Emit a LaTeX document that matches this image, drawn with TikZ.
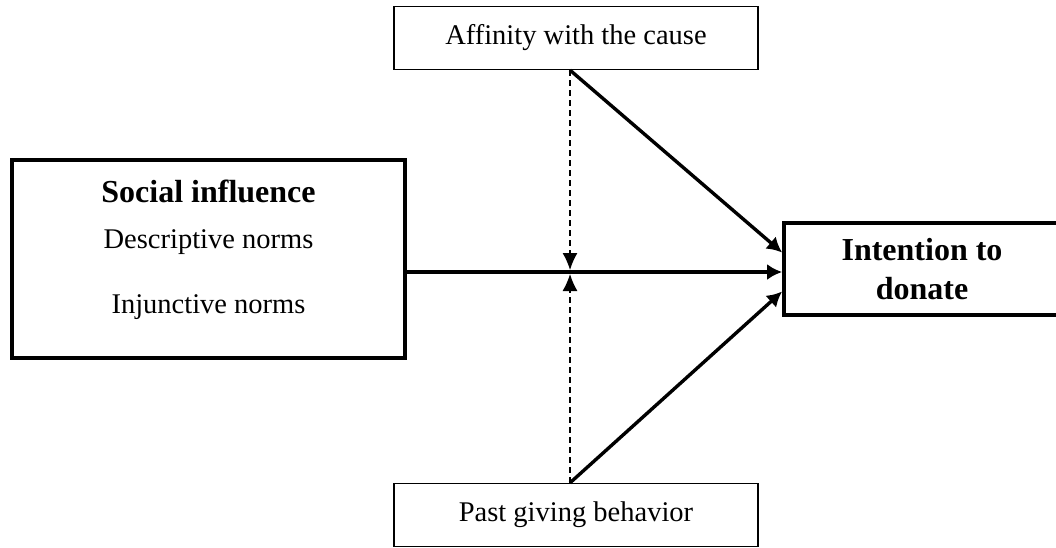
\documentclass[tikz,border=0pt]{standalone}
\usepackage{fontspec}
\setmainfont{Liberation Serif}
\usetikzlibrary{arrows.meta}
\tikzset{
  thinbox/.style={draw, line width=1.3pt, minimum width=364pt, minimum height=63pt,
    inner sep=0pt, font=\fontsize{28.5}{34}\selectfont},
  thickbox/.style={draw, line width=3.8pt, inner sep=0pt},
  plain/.style={font=\fontsize{28.5}{34}\selectfont, anchor=base, inner sep=0pt},
  heading/.style={font=\bfseries\fontsize{32}{39}\selectfont, inner sep=0pt},
  link/.style={line width=3.4pt, -{Latex[length=15pt,width=16pt]}},
  modlink/.style={line width=1.3pt, dash pattern=on 6pt off 4pt, -{Latex[length=17pt,width=15pt]}},
}

\begin{document}
\begin{tikzpicture}[x=1pt, y=-1pt]
  %%%%% START %%%%%
  \fill[white] (0,0) rectangle (1056,548);
  \useasboundingbox (0,0) rectangle (1056,548);

  % moderators
  \node[thinbox] (affinity) at (576,38) {Affinity with the cause};
  \node[thinbox] (past) at (576,515) {Past giving behavior};

  % predictor
  \node[thickbox, minimum width=393pt, minimum height=198pt] (social) at (208.5,259) {};
  \node[heading, anchor=base] (socialtitle) at (208.5,202) {Social influence};
  \node[plain] (descriptive) at (208.5,248) {Descriptive norms};
  \node[plain] (injunctive) at (208.5,313) {Injunctive norms};

  % outcome
  \node[thickbox, heading, minimum width=276pt, minimum height=92pt, align=center] (intention) at (922,269) {Intention to\\donate};

  \coordinate (cross) at (570,272);
  \coordinate (crossup) at (570,270);
  \coordinate (crossdown) at (570,274);

  \draw[link] (social.east |- cross) -- (intention.west |- cross);
  \draw[link] (affinity.south -| cross) -- ([yshift=16.5pt]intention.west);
  \draw[link] (past.north -| cross) -- ([yshift=-22.5pt]intention.west);

  \draw[modlink] (affinity.south -| cross) -- (crossup);
  \draw[modlink] (past.north -| cross) -- (crossdown);
  %%%%% END %%%%%
\end{tikzpicture}
\end{document}
